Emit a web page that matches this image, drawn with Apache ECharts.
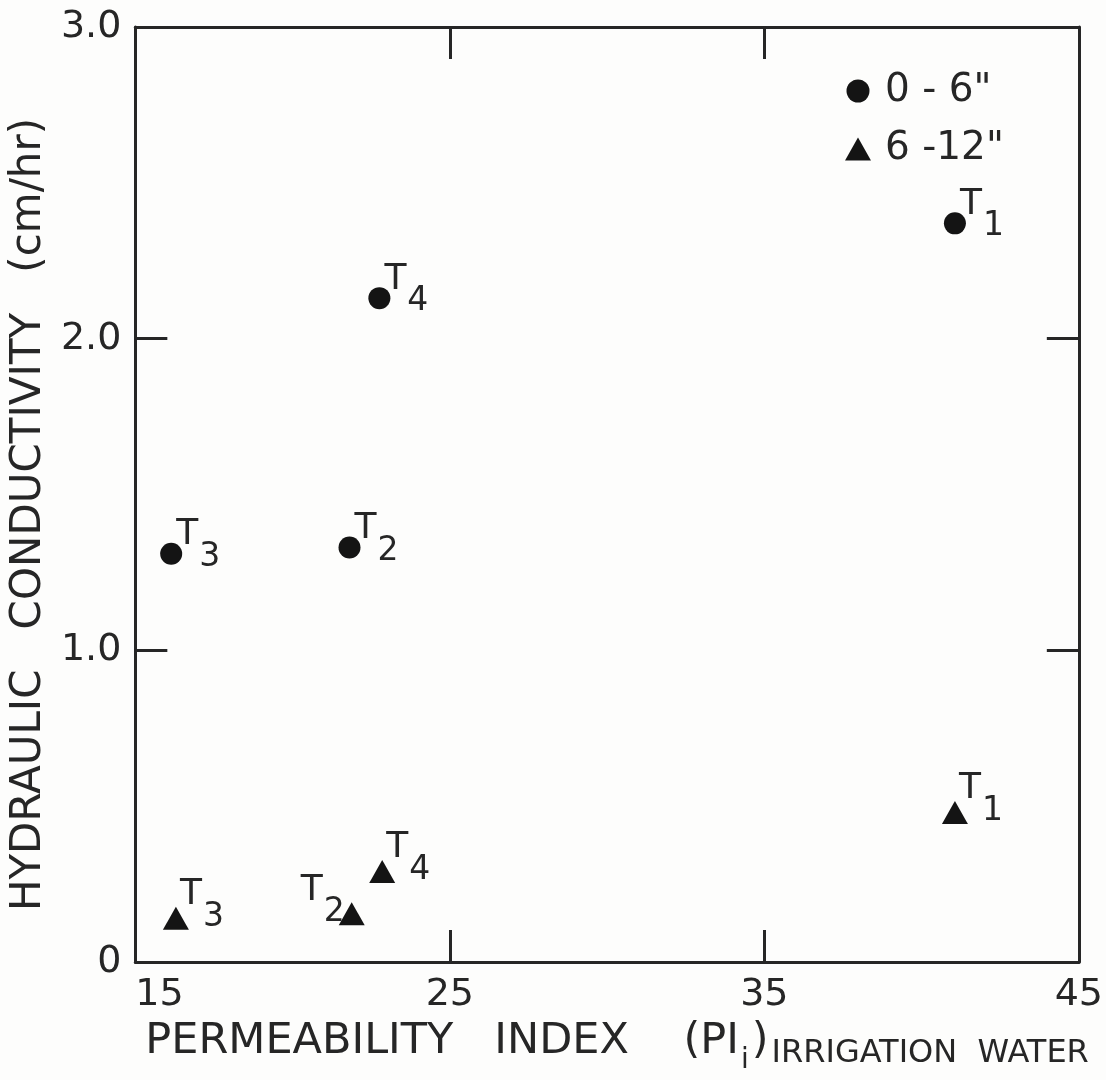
<!DOCTYPE html>
<html>
  <head>
    <meta charset="utf-8" />
    <title>Hydraulic conductivity vs permeability index</title>
    <script src="https://cdn.jsdelivr.net/npm/echarts@6.0.0/dist/echarts.min.js"></script>
  </head>
  <body style="margin:0;background:#fdfdfc;">
    <div id="main" style="width:1106px;height:1080px;"></div>
    <script type="text/javascript">
// treatments, in the order the points are listed below
const treatments = ['1', '2', '3', '4'];

// 0 - 6" depth (circles)
const piTop = [41.06, 21.81, 16.14, 22.76];
const kTop = [2.37, 1.33, 1.31, 2.13];

// 6 - 12" depth (triangles)
const piSub = [41.06, 21.88, 16.29, 22.85];
const kSub = [0.48, 0.155, 0.14, 0.29];

const xTicks = [15, 25, 35, 45];
const yTicks = [0, 1, 2, 3];

var ink = '#262626';
var font = 'DejaVu Sans';

function points(xs, ys) {
  return xs.map(function (x, i) {
    return { value: [x, ys[i]], name: treatments[i] };
  });
}

var tLabel = {
  show: true,
  align: 'left',
  verticalAlign: 'top',
  color: ink,
  formatter: function (p) {
    return '{t|T}{s|' + p.name + '}';
  },
  rich: {
    t: { fontFamily: font, fontSize: 36, lineHeight: 36, color: ink, verticalAlign: 'top' },
    s: { fontFamily: font, fontSize: 33, lineHeight: 33, color: ink, verticalAlign: 'top', padding: [24, 0, 0, 1] }
  }
};

var topData = points(piTop, kTop);
var subData = points(piSub, kSub);
// the T2 label of the lower layer sits on the left of its triangle
subData[1].label = { position: [6, -30], align: 'right' };

var chartDom = document.getElementById('main');
var myChart = echarts.init(chartDom);
var option;

var baseX = {
  type: 'value',
  min: 15,
  max: 45,
  interval: 10,
  splitLine: { show: false },
  axisLine: { show: true, onZero: false, lineStyle: { color: ink, width: 3 } },
  axisTick: { show: true, inside: true, length: 32, lineStyle: { color: ink, width: 3 } }
};
var baseY = {
  type: 'value',
  min: 0,
  max: 3,
  interval: 1,
  splitLine: { show: false },
  axisLine: { show: true, onZero: false, lineStyle: { color: ink, width: 3 } },
  axisTick: { show: true, inside: true, length: 32, lineStyle: { color: ink, width: 3 } }
};

option = {
  backgroundColor: '#fdfdfc',
  animation: false,
  grid: { left: 133, right: 22, top: 27, bottom: 118 },
  legend: {
    orient: 'vertical',
    left: 840,
    top: 66,
    itemWidth: 26,
    itemHeight: 23,
    itemGap: 18,
    textStyle: { fontFamily: font, fontSize: 39, lineHeight: 40, color: ink, padding: [0, 0, 0, 9] },
    data: ['0 - 6"', '6 -12"']
  },
  xAxis: [
    Object.assign({}, baseX, {
      position: 'bottom',
      name: '{a|PERMEABILITY   INDEX    (PI}{i|i}{a|)}{w|IRRIGATION  WATER}',
      nameLocation: 'middle',
      nameGap: 58,
      nameTextStyle: {
        padding: [0, 0, 0, 20],
        rich: {
          a: { fontFamily: font, fontSize: 43, lineHeight: 44, color: ink, verticalAlign: 'top' },
          i: { fontFamily: font, fontSize: 28, lineHeight: 28, color: ink, verticalAlign: 'top', padding: [27, 3, 0, 2] },
          w: { fontFamily: font, fontSize: 32, lineHeight: 32, color: ink, verticalAlign: 'top', padding: [18, 0, 0, 3] }
        }
      },
      axisLabel: {
        margin: 14,
        fontFamily: font,
        fontSize: 38,
        color: ink,
        customValues: xTicks,
        alignMinLabel: 'left'
      }
    }),
    Object.assign({}, baseX, {
      position: 'top',
      axisLabel: { show: false }
    })
  ],
  yAxis: [
    Object.assign({}, baseY, {
      position: 'left',
      name: 'HYDRAULIC   CONDUCTIVITY   (cm/hr)',
      nameLocation: 'middle',
      nameGap: 72,
      nameTextStyle: { fontFamily: font, fontSize: 42, color: ink, padding: [0, 40, 0, 0] },
      axisLabel: {
        margin: 14,
        fontFamily: font,
        fontSize: 38,
        color: ink,
        customValues: yTicks,
        formatter: function (v) {
          return v === 0 ? '0' : v.toFixed(1);
        }
      }
    }),
    Object.assign({}, baseY, {
      position: 'right',
      axisLabel: { show: false }
    })
  ],
  series: [
    {
      name: '0 - 6"',
      type: 'scatter',
      symbol: 'circle',
      symbolSize: 22,
      itemStyle: { color: '#141414', opacity: 1 },
      label: Object.assign({}, tLabel, { position: [16, -26] }),
      data: topData
    },
    {
      name: '6 -12"',
      type: 'scatter',
      symbol: 'triangle',
      symbolSize: [26, 23],
      itemStyle: { color: '#141414', opacity: 1 },
      label: Object.assign({}, tLabel, { position: [17, -30] }),
      data: subData
    }
  ]
};

option && myChart.setOption(option);
    </script>
  </body>
</html>
